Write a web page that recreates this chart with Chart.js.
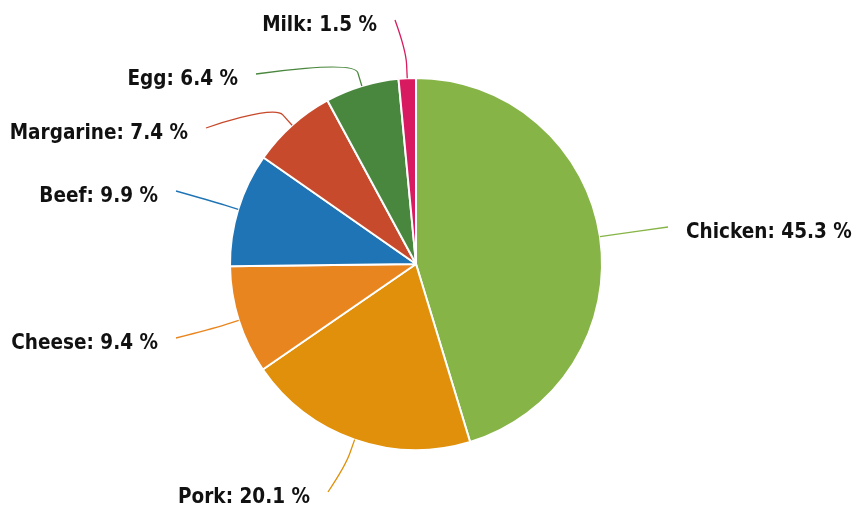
<!DOCTYPE html>
<html>
<head>
<meta charset="utf-8">
<script src="https://cdn.jsdelivr.net/npm/chart.js@4.4.1/dist/chart.umd.min.js"></script>
<style>
  html, body { margin: 0; background: #fff; }
  #wrap { width: 858px; height: 508px; }
</style>
</head>
<body>
<div id="wrap"><canvas id="foodChart"></canvas></div>
<script>
  // Data
  var categories = ["Chicken", "Pork", "Cheese", "Beef", "Margarine", "Egg", "Milk"];
  var shares = [45.3, 20.1, 9.4, 9.9, 7.4, 6.4, 1.5];
  var sliceColors = ["#86b446", "#e0900a", "#e9851f", "#1f74b5", "#c84a2c", "#4a873e", "#d81b60"];

  // where each label text sits (x = text edge nearest the pie, y = middle of text)
  var labelLayout = {
    Chicken:   { side: "right", x: 686, y: 232 },
    Pork:      { side: "left",  x: 310, y: 497 },
    Cheese:    { side: "left",  x: 158, y: 343 },
    Beef:      { side: "left",  x: 158, y: 196 },
    Margarine: { side: "left",  x: 188, y: 133 },
    Egg:       { side: "left",  x: 238, y: 79 },
    Milk:      { side: "left",  x: 377, y: 25 }
  };

  // labels with soft connectors
  var pieLabels = {
    id: "pieLabels",
    afterDatasetsDraw: function (chart) {
      var ctx = chart.ctx;
      var arcs = chart.getDatasetMeta(0).data;
      ctx.save();
      arcs.forEach(function (arc, i) {
        var p = arc.getProps(["x", "y", "startAngle", "endAngle", "outerRadius"], true);
        var mid = (p.startAngle + p.endAngle) / 2;
        var dx = Math.cos(mid), dy = Math.sin(mid);
        var ex = p.x + dx * p.outerRadius, ey = p.y + dy * p.outerRadius;
        var bx = p.x + dx * (p.outerRadius + 14), by = p.y + dy * (p.outerRadius + 14);
        var lay = labelLayout[categories[i]];
        var lx = lay.side === "right" ? lay.x - 18 : lay.x + 18;
        var ly = lay.y - 5;

        ctx.beginPath();
        ctx.moveTo(lx, ly);
        ctx.bezierCurveTo(lx, ly, 2 * bx - ex, 2 * by - ey, bx, by);
        ctx.lineTo(ex, ey);
        ctx.strokeStyle = sliceColors[i];
        ctx.lineWidth = 1.3;
        ctx.stroke();

        var text = categories[i] + ": " + shares[i] + " %";
        ctx.save();
        ctx.translate(lay.x, lay.y);
        ctx.scale(0.88, 1);
        ctx.font = "bold 21px 'DejaVu Sans'";
        ctx.fillStyle = "#111";
        ctx.textBaseline = "middle";
        ctx.textAlign = lay.side === "right" ? "left" : "right";
        ctx.fillText(text, 0, 1);
        ctx.restore();
      });
      ctx.restore();
    }
  };

  var ctx = document.getElementById("foodChart").getContext("2d");
  var foodChart = new Chart(ctx, {
    type: "pie",
    data: {
      labels: categories,
      datasets: [{
        data: shares,
        backgroundColor: sliceColors,
        borderColor: "#ffffff",
        borderWidth: 2
      }]
    },
    options: {
      responsive: true,
      maintainAspectRatio: false,
      animation: false,
      layout: { padding: { top: 77, bottom: 57, left: 0, right: 26 } },
      plugins: {
        legend: { display: false },
        tooltip: { enabled: false }
      }
    },
    plugins: [pieLabels]
  });
</script>
</body>
</html>
